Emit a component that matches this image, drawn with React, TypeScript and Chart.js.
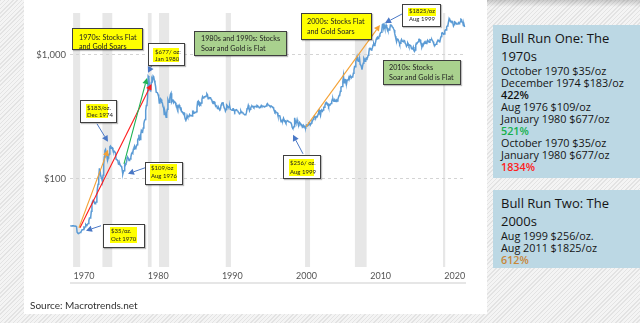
import React, { useEffect, useRef } from 'react';
import { Chart, registerables } from 'chart.js';

Chart.register(...registerables);

// ---- DATA (monthly average gold price, USD/oz, starting July 1969) ----
const startYear = 1969;
const startMonth = 7;

const gold1969to1979 = [
  41.8, 41.8, 41.6, 41.6, 41.8, 41.8,
  41.6, 41.5, 41.5, 41.4, 41.2, 37.0, 36.5, 36.3, 36.5, 36.6, 36.8, 37.0,
  37.9, 38.7, 38.9, 39.0, 40.5, 40.1, 41.0, 42.7, 42.0, 42.5, 42.9, 43.5,
  45.8, 48.3, 48.3, 49.0, 54.6, 62.1, 65.7, 67.0, 65.5, 64.9, 62.9, 63.9,
  65.1, 74.2, 84.4, 90.5, 102.0, 120.1, 120.2, 106.8, 103.0, 100.1, 94.8, 106.7,
  129.2, 150.2, 168.4, 172.2, 163.0, 154.1, 143.0, 154.6, 151.8, 158.8, 181.7, 183.9,
  176.3, 179.6, 178.2, 170.0, 167.0, 164.3, 165.0, 163.0, 144.1, 142.7, 142.2, 139.3,
  131.5, 131.1, 132.6, 128.2, 126.9, 125.8, 117.7, 109.3, 114.2, 116.0, 130.2, 133.0,
  132.3, 136.3, 148.2, 149.2, 146.7, 140.8, 143.4, 144.7, 149.5, 159.0, 162.3, 160.5,
  173.2, 178.2, 183.7, 175.1, 176.3, 183.7, 188.7, 206.0, 212.0, 227.3, 206.1, 207.8,
  227.3, 245.7, 242.1, 239.2, 257.6, 279.1, 294.7, 300.8, 355.1, 391.7, 392.5, 455.1,
];
const gold1980s = [
  675.3, 665.3, 553.6, 517.4, 513.8, 600.7, 644.3, 627.2, 673.6, 661.1, 623.5, 594.9,
  557.6, 500.8, 498.7, 495.8, 479.7, 460.8, 409.3, 410.1, 443.2, 437.7, 413.4, 410.1,
  384.1, 374.3, 330.0, 350.5, 333.9, 314.0, 339.0, 364.3, 435.6, 422.0, 415.8, 447.0,
  480.1, 491.6, 420.0, 432.2, 438.3, 412.9, 422.5, 416.2, 411.8, 393.8, 381.8, 388.0,
  370.0, 385.9, 394.2, 381.1, 377.0, 377.9, 348.2, 348.4, 341.1, 340.2, 341.2, 320.2,
  302.7, 299.1, 304.1, 324.8, 316.0, 316.9, 317.4, 329.9, 323.4, 325.6, 325.3, 321.8,
  345.4, 339.0, 346.0, 340.4, 342.5, 342.8, 348.7, 376.4, 418.0, 423.3, 398.2, 391.3,
  408.3, 401.1, 408.9, 438.4, 460.3, 449.9, 450.3, 460.2, 460.0, 465.9, 467.4, 486.3,
  477.4, 442.5, 443.6, 451.9, 451.0, 451.7, 437.6, 431.4, 413.4, 406.2, 419.8, 418.7,
  404.1, 387.9, 390.0, 384.1, 371.2, 367.6, 375.0, 365.4, 361.9, 366.9, 394.1, 409.3,
];
const gold1990s = [
  410.1, 416.7, 393.1, 374.3, 369.1, 352.3, 362.5, 394.7, 389.3, 380.8, 381.0, 378.2,
  383.6, 363.8, 363.3, 358.4, 357.4, 366.7, 367.7, 356.4, 348.7, 358.7, 359.7, 361.4,
  354.5, 353.9, 344.3, 338.6, 337.2, 340.8, 352.7, 342.9, 345.2, 344.3, 335.0, 334.6,
  329.0, 329.3, 330.1, 342.2, 367.2, 371.6, 392.0, 378.7, 354.9, 364.2, 373.8, 383.3,
  386.9, 381.8, 384.0, 377.3, 381.3, 385.6, 385.1, 380.4, 391.5, 389.8, 384.4, 379.3,
  378.6, 376.6, 382.1, 391.0, 385.2, 387.6, 386.2, 383.7, 383.1, 383.0, 385.5, 387.4,
  400.0, 404.8, 396.2, 392.9, 391.9, 385.4, 383.5, 387.4, 383.1, 381.1, 377.9, 369.2,
  354.9, 346.6, 351.8, 344.5, 343.8, 340.8, 324.1, 324.0, 323.0, 324.9, 306.0, 288.7,
  289.1, 297.5, 295.9, 308.4, 299.1, 292.3, 292.9, 284.1, 289.0, 295.9, 294.1, 291.5,
  287.1, 287.3, 285.9, 282.6, 276.4, 261.3, 256.1, 256.7, 265.0, 311.0, 292.3, 283.4,
];
const gold2000s = [
  284.6, 300.3, 286.4, 279.7, 275.2, 285.7, 281.6, 274.5, 273.7, 270.0, 266.0, 271.5,
  265.5, 261.9, 263.0, 260.5, 272.4, 270.2, 267.5, 272.4, 283.4, 283.1, 276.2, 275.9,
  281.7, 295.5, 294.0, 302.7, 314.5, 321.2, 313.3, 310.3, 319.2, 316.6, 319.2, 333.4,
  356.9, 359.0, 340.6, 328.2, 355.7, 356.4, 351.0, 359.8, 378.9, 378.9, 389.9, 407.6,
  414.0, 405.3, 406.7, 403.0, 383.8, 392.4, 398.1, 400.5, 405.3, 420.5, 439.4, 442.1,
  424.0, 423.4, 434.2, 428.9, 421.9, 430.7, 424.5, 437.9, 456.0, 469.9, 476.7, 509.8,
  549.9, 555.0, 557.1, 610.6, 676.5, 596.2, 633.8, 632.6, 598.2, 585.8, 627.8, 629.8,
  631.2, 664.8, 654.9, 679.4, 666.9, 655.5, 665.3, 665.4, 712.7, 754.6, 806.2, 803.2,
  889.6, 922.3, 968.4, 909.7, 888.7, 889.5, 939.8, 839.0, 829.9, 806.6, 760.9, 816.1,
  858.7, 943.2, 924.3, 890.2, 928.6, 945.7, 934.2, 949.4, 996.6, 1043.5, 1127.0, 1134.7,
];
const gold2010s = [
  1117.9, 1095.4, 1113.3, 1148.7, 1205.4, 1232.9, 1192.9, 1215.8, 1270.9, 1342.0, 1369.9, 1390.6,
  1356.4, 1372.7, 1424.0, 1473.8, 1510.4, 1528.7, 1572.8, 1755.8, 1771.9, 1665.2, 1739.0, 1652.3,
  1656.1, 1742.6, 1673.8, 1649.7, 1585.5, 1596.7, 1594.3, 1630.3, 1744.8, 1746.6, 1721.6, 1684.8,
  1671.9, 1627.6, 1593.1, 1487.9, 1414.0, 1343.4, 1285.5, 1351.7, 1348.6, 1316.6, 1275.8, 1221.5,
  1244.3, 1300.0, 1336.1, 1298.5, 1288.7, 1279.1, 1311.0, 1295.9, 1238.8, 1222.5, 1176.3, 1200.6,
  1251.8, 1227.1, 1178.6, 1198.9, 1198.6, 1181.5, 1128.3, 1117.9, 1124.6, 1159.3, 1086.4, 1068.3,
  1097.9, 1199.5, 1245.1, 1242.3, 1260.9, 1276.4, 1336.7, 1340.2, 1326.6, 1266.6, 1238.4, 1157.4,
  1192.1, 1234.2, 1231.1, 1266.9, 1246.0, 1260.3, 1236.8, 1283.0, 1314.1, 1279.5, 1281.9, 1264.5,
  1331.3, 1330.7, 1324.7, 1334.8, 1303.5, 1281.6, 1238.0, 1201.7, 1198.4, 1215.4, 1220.7, 1250.4,
  1291.8, 1320.1, 1300.9, 1285.9, 1283.7, 1359.0, 1412.9, 1500.4, 1510.6, 1494.8, 1470.0, 1479.1,
];
const gold2020s = [
  1560.7, 1597.1, 1591.9, 1683.2, 1715.9, 1732.2, 1846.5, 1968.6, 1921.9, 1900.3, 1866.3, 1858.4,
  1867.0, 1808.2, 1718.2, 1760.0, 1850.3, 1834.6, 1807.8, 1785.3, 1775.1, 1777.4, 1821.5, 1790.4,
  1817.0, 1856.3, 1948.0, 1937.4, 1848.2, 1836.6, 1732.7, 1765.9, 1681.4,
];

const xTickYears = [1970, 1980, 1990, 2000, 2010, 2020];
const yTickValues = [100, 1000];

// US recessions (start year, end year)
const recessions: [number, number][] = [
  [1969.92, 1970.87], [1973.87, 1975.2], [1980.0, 1980.5], [1981.5, 1982.87],
  [1990.5, 1991.2], [2001.2, 2001.87], [2007.92, 2009.5], [2019.8, 2020.1],
];

// trend arrows [year, price] -> [year, price]
const trendArrows = [
  { from: [1970.71, 40.3], to: [1974.62, 171.5], color: '#f4a236' },
  { from: [1970.85, 40.3], to: [1980.49, 584], color: '#ff1a1a' },
  { from: [1976.78, 132.2], to: [1979.88, 653], color: '#1fb356' },
  { from: [2001.32, 262.9], to: [2011.3, 1747], color: '#f4a236' },
];
// callout pointer arrows
const pointerArrows = [
  { from: [1980.49, 816], to: [1980.02, 717] },
  { from: [1973.14, 278], to: [1974.62, 199] },
  { from: [1979.61, 122.7], to: [1977.32, 109.8] },
  { from: [1973.68, 41.8], to: [1971.66, 38.1] },
  { from: [2000.92, 159.2], to: [1999.57, 226.5] },
  { from: [2014.27, 2143], to: [2011.98, 1813] },
];

const goldMonthly = [...gold1969to1979, ...gold1980s, ...gold1990s, ...gold2000s, ...gold2010s, ...gold2020s];

function drawArrow(ctx: CanvasRenderingContext2D, x1: number, y1: number, x2: number, y2: number, color: string, lw: number, hl: number, hw: number) {
  const ang = Math.atan2(y2 - y1, x2 - x1);
  const bx = x2 - hl * Math.cos(ang);
  const by = y2 - hl * Math.sin(ang);
  ctx.strokeStyle = color;
  ctx.fillStyle = color;
  ctx.lineWidth = lw;
  ctx.beginPath();
  ctx.moveTo(x1, y1);
  ctx.lineTo(bx, by);
  ctx.stroke();
  ctx.beginPath();
  ctx.moveTo(x2, y2);
  ctx.lineTo(bx + hw * Math.sin(ang), by - hw * Math.cos(ang));
  ctx.lineTo(bx - hw * Math.sin(ang), by + hw * Math.cos(ang));
  ctx.closePath();
  ctx.fill();
}

const overlayPlugin = {
  id: 'overlay',
  beforeDraw(chart: any) {
    const { ctx, chartArea, scales } = chart;
    const x = scales.x;
    ctx.save();
    ctx.fillStyle = '#e7e7e7';
    for (const [a, b] of recessions) {
      const x1 = x.getPixelForValue(a);
      const x2 = x.getPixelForValue(b);
      ctx.fillRect(x1, chartArea.top, Math.max(x2 - x1, 2), chartArea.bottom - chartArea.top);
    }
    ctx.restore();
  },
  afterDatasetsDraw(chart: any) {
    const { ctx, scales } = chart;
    const x = scales.x;
    const y = scales.y;
    ctx.save();
    for (const a of trendArrows) {
      drawArrow(ctx, x.getPixelForValue(a.from[0]), y.getPixelForValue(a.from[1]),
        x.getPixelForValue(a.to[0]), y.getPixelForValue(a.to[1]), a.color, 1.1, 6, 3);
    }
    for (const a of pointerArrows) {
      drawArrow(ctx, x.getPixelForValue(a.from[0]), y.getPixelForValue(a.from[1]),
        x.getPixelForValue(a.to[0]), y.getPixelForValue(a.to[1]), '#4a78c6', 1, 6, 3.2);
    }
    ctx.restore();
  },
  afterDraw(chart: any) {
    const { ctx, chartArea } = chart;
    ctx.save();
    ctx.strokeStyle = '#dedede';
    ctx.lineWidth = 1.5;
    ctx.beginPath();
    ctx.moveTo(chartArea.left, chartArea.bottom + 16);
    ctx.lineTo(chartArea.right, chartArea.bottom + 16);
    ctx.stroke();
    ctx.restore();
  },
};

type BigBox = { left: number; top: number; w: number; h: number; bg: string; textLeft: number; textTop: number; lh: number; lines: string[] };
type SmallBox = { left: number; top: number; w: number; h: number; hl: [number, number, number, number]; textLeft: number; textTop: number; lh: number; lines: string[] };

const bigBoxes: BigBox[] = [
  { left: 72, top: 28, w: 71, h: 22, bg: '#ffff00', textLeft: 79, textTop: 32.6, lh: 9.4, lines: ['1970s: Stocks Flat', 'and Gold Soars'] },
  { left: 194, top: 31, w: 93, h: 25, bg: '#a9d18e', textLeft: 201, textTop: 33.9, lh: 10.3, lines: ['1980s and 1990s: Stocks', 'Soar and Gold is Flat'] },
  { left: 301, top: 13, w: 71, h: 27, bg: '#ffff00', textLeft: 307, textTop: 17.3, lh: 10, lines: ['2000s: Stocks Flat', 'and Gold Soars'] },
  { left: 383, top: 60, w: 78, h: 25, bg: '#a9d18e', textLeft: 389, textTop: 63.3, lh: 10, lines: ['2010s: Stocks', 'Soar and Gold is Flat'] },
];

const smallBoxes: SmallBox[] = [
  { left: 148, top: 43, w: 37, h: 23, hl: [153, 48, 26, 14], textLeft: 155, textTop: 48, lh: 7.3, lines: ['$677/ oz:', 'Jan 1980'] },
  { left: 80, top: 100, w: 37, h: 23, hl: [86, 104, 22, 14], textLeft: 87, textTop: 103.5, lh: 7.7, lines: ['$183/oz.', 'Dec 1974'] },
  { left: 145, top: 162, w: 38, h: 23, hl: [150, 164, 27, 17], textLeft: 151, textTop: 163.5, lh: 8.6, lines: ['$109/oz', 'Aug 1976'] },
  { left: 103, top: 224, w: 42, h: 24, hl: [110, 227, 27, 16], textLeft: 111, textTop: 226.5, lh: 8.3, lines: ['$35/oz.', 'Oct 1970'] },
  { left: 283, top: 155, w: 38, h: 24, hl: [289, 159, 25, 17], textLeft: 290, textTop: 159.1, lh: 8.4, lines: ['$256/ oz.', 'Aug 1999'] },
  { left: 402, top: 4, w: 39, h: 23, hl: [408, 7.5, 28, 8], textLeft: 409, textTop: 6.7, lh: 8, lines: ['$1825/oz', 'Aug 1999'] },
];

const panelOne = [
  { t: 'October 1970 $35/oz' },
  { t: 'December 1974 $183/oz' },
  { t: '422%', c: '#111', b: true },
  { t: 'Aug 1976 $109/oz' },
  { t: 'January 1980 $677/oz' },
  { t: '521%', c: '#14b04c', b: true },
  { t: 'October 1970 $35/oz' },
  { t: 'January 1980 $677/oz' },
  { t: '1834%', c: '#ff2020', b: true },
];
const panelTwo = [
  { t: 'Aug 1999 $256/oz.' },
  { t: 'Aug 2011 $1825/oz' },
  { t: '612%', c: '#c8873a', b: true },
];

export default function App() {
  const canvasRef = useRef<HTMLCanvasElement | null>(null);

  useEffect(() => {
    const points = goldMonthly.map((v, i) => ({ x: startYear + (startMonth - 1 + i + 0.5) / 12, y: v }));
    const chart = new Chart(canvasRef.current as HTMLCanvasElement, {
      type: 'line',
      data: {
        datasets: [{
          data: points,
          borderColor: '#5b9bd5',
          borderWidth: 1.5,
          pointRadius: 0,
          tension: 0,
          fill: false,
        }],
      },
      options: {
        animation: false,
        responsive: false,
        devicePixelRatio: 1,
        layout: { padding: { left: 0, right: 21, top: 13, bottom: 0 } },
        plugins: { legend: { display: false }, tooltip: { enabled: false } },
        scales: {
          x: {
            type: 'linear',
            min: 1969.5,
            max: 2022.9,
            grid: { display: false, drawTicks: false },
            border: { display: false },
            ticks: {
              font: { family: 'Lato', size: 9 },
              color: '#555555',
              padding: 4,
              labelOffset: 10.3,
              maxRotation: 0,
              autoSkip: false,
              callback: (v: any) => String(v),
            },
            afterBuildTicks: (s: any) => { s.ticks = xTickYears.map((v) => ({ value: v })); },
            afterFit: (s: any) => { s.height = 47; },
          },
          y: {
            type: 'logarithmic',
            min: 19.4,
            max: 2183,
            grid: { color: '#d4d4d4', drawTicks: false, lineWidth: 1 },
            border: { display: false, dash: [3, 3] },
            ticks: {
              font: { family: 'Lato', size: 9.5 },
              color: '#555555',
              padding: 4,
              callback: (v: any) => '$' + Number(v).toLocaleString('en-US'),
            },
            afterBuildTicks: (s: any) => { s.ticks = yTickValues.map((v) => ({ value: v })); },
            afterFit: (s: any) => { s.width = 46; },
          },
        },
      },
      plugins: [overlayPlugin],
    } as any);
    return () => chart.destroy();
  }, []);

  const hatch = 'repeating-linear-gradient(135deg, #e3e3e3 0px, #e3e3e3 1px, #f4f4f4 1px, #f4f4f4 3px)';

  return (
    <div style={{ position: 'fixed', left: 0, top: 0, width: 640, height: 323, overflow: 'hidden', background: hatch, fontFamily: 'Lato, sans-serif' }}>
      <div style={{ position: 'absolute', left: 487, top: 0, width: 153, height: 7, background: 'linear-gradient(to bottom, rgba(0,0,0,0.18), rgba(0,0,0,0))' }} />
      <div style={{ position: 'absolute', left: 24, top: 0, width: 463, height: 314, background: '#ffffff' }}>
        <canvas ref={canvasRef} width={463} height={314} style={{ display: 'block', width: 463, height: 314 }} />
        <div style={{ position: 'absolute', left: 6, top: 298.5, fontSize: 10, lineHeight: '12px', color: '#333', fontFamily: 'Lato', whiteSpace: 'nowrap' }}>
          Source: Macrotrends.net
        </div>
      </div>

      {bigBoxes.map((b, i) => (
        <React.Fragment key={'b' + i}>
          <div style={{ position: 'absolute', left: b.left, top: b.top, width: b.w, height: b.h, background: b.bg, border: '1px solid #3f3f3f', boxSizing: 'border-box', boxShadow: '1px 1px 1px rgba(0,0,0,0.25)' }} />
          <div style={{ position: 'absolute', left: b.textLeft, top: b.textTop, fontSize: 7.2, lineHeight: b.lh + 'px', color: '#222', whiteSpace: 'pre', fontFamily: 'Lato' }}>
            {b.lines.join('\n')}
          </div>
        </React.Fragment>
      ))}

      {smallBoxes.map((b, i) => (
        <React.Fragment key={'s' + i}>
          <div style={{ position: 'absolute', left: b.left, top: b.top, width: b.w, height: b.h, background: '#ffffff', border: '1px solid #3f3f3f', boxSizing: 'border-box', boxShadow: '1px 1px 1px rgba(0,0,0,0.25)' }} />
          <div style={{ position: 'absolute', left: b.hl[0], top: b.hl[1], width: b.hl[2], height: b.hl[3], background: '#ffff00' }} />
          <div style={{ position: 'absolute', left: b.textLeft, top: b.textTop, fontSize: 6, lineHeight: b.lh + 'px', color: '#222', whiteSpace: 'pre', fontFamily: 'Lato' }}>
            {b.lines.join('\n')}
          </div>
        </React.Fragment>
      ))}

      <div style={{ position: 'absolute', left: 493, top: 25, width: 147, height: 153, background: '#bcd8e4', boxSizing: 'border-box', padding: '4px 0 0 8px', fontFamily: '"Open Sans", sans-serif', color: '#151515' }}>
        <div style={{ fontSize: 13, lineHeight: '18px' }}>Bull Run One: The</div>
        <div style={{ fontSize: 13, lineHeight: '18px' }}>1970s</div>
        {panelOne.map((r, i) => (
          <div key={i} style={{ fontSize: 10.8, lineHeight: '12px', color: r.c || '#151515', fontWeight: r.b ? 600 : 400, whiteSpace: 'nowrap' }}>{r.t}</div>
        ))}
      </div>

      <div style={{ position: 'absolute', left: 493, top: 190, width: 147, height: 78, background: '#bcd8e4', boxSizing: 'border-box', padding: '3.5px 0 0 8px', fontFamily: '"Open Sans", sans-serif', color: '#151515' }}>
        <div style={{ fontSize: 13, lineHeight: '18px' }}>Bull Run Two: The</div>
        <div style={{ fontSize: 13, lineHeight: '18px' }}>2000s</div>
        {panelTwo.map((r, i) => (
          <div key={i} style={{ fontSize: 10.8, lineHeight: '12px', color: r.c || '#151515', fontWeight: r.b ? 600 : 400, whiteSpace: 'nowrap' }}>{r.t}</div>
        ))}
      </div>
    </div>
  );
}
